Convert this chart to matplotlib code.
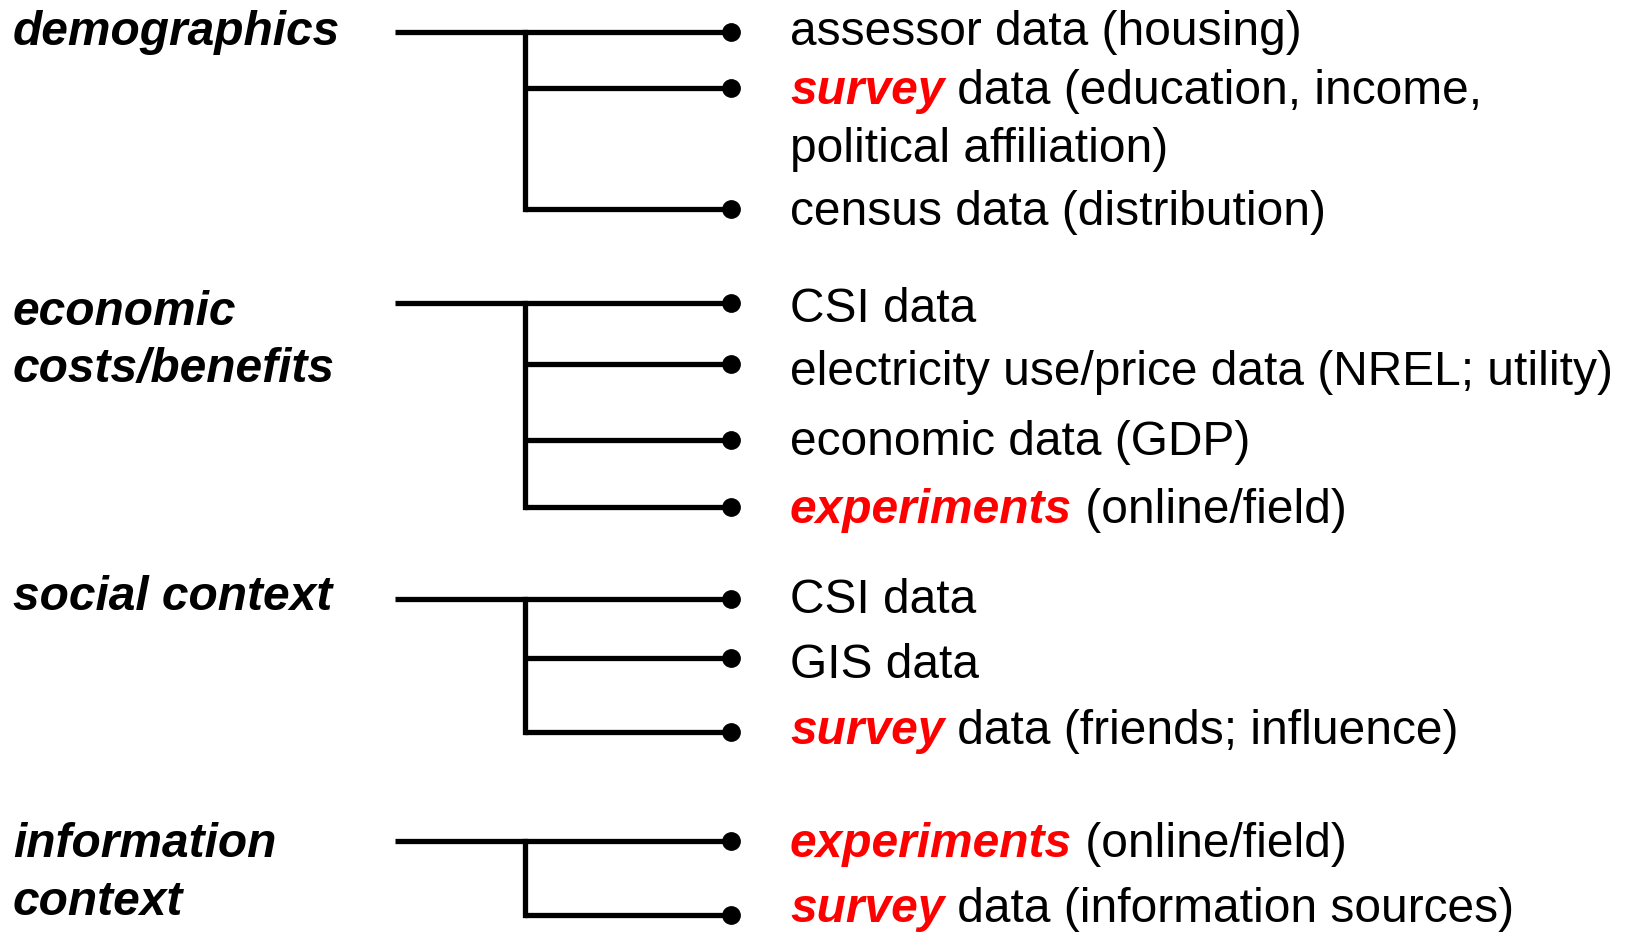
import matplotlib
matplotlib.use("Agg")
import matplotlib.pyplot as plt

# ---------------- data ----------------
group_labels = [
    ["demographics"],
    ["economic", "costs/benefits"],
    ["social context"],
    ["information", "context"],
]

# each item: (highlighted word in red, remaining text, continuation line)
demographics_items = [
    ("", "assessor data (housing)", ""),
    ("survey", " data (education, income,", "political affiliation)"),
    ("", "census data (distribution)", ""),
]
economic_items = [
    ("", "CSI data", ""),
    ("", "electricity use/price data (NREL; utility)", ""),
    ("", "economic data (GDP)", ""),
    ("experiments", " (online/field)", ""),
]
social_items = [
    ("", "CSI data", ""),
    ("", "GIS data", ""),
    ("survey", " data (friends; influence)", ""),
]
information_items = [
    ("experiments", " (online/field)", ""),
    ("survey", " data (information sources)", ""),
]
group_items = [demographics_items, economic_items, social_items, information_items]

# ---------------- layout (pixels) ----------------
W, H = 1626, 934
row_y = [[31.5, 88, 209], [303, 364, 440, 507], [599, 658, 732], [841, 915]]
text_base = [[45, 104, 225], [322, 385, 455, 523], [613, 678, 744], [857, 922]]
cont_gap = 58
label_base = [[45], [325, 382], [610], [857, 915]]

x_label = 13
x_start = 395
x_branch = 525
x_dot = 731
x_text = 790

FS = 34.5
LW = 3.8
MS = 12.5
RED = "#ff0000"
FONT = "Liberation Sans"

fig = plt.figure(figsize=(W / 100, H / 100), dpi=100)
ax = fig.add_axes([0, 0, 1, 1])
ax.set_xlim(0, W)
ax.set_ylim(H, 0)
ax.axis("off")

# lines and dots
for ys in row_y:
    ax.plot([x_start, x_dot], [ys[0], ys[0]], color="black", lw=LW,
            solid_capstyle="butt")
    ax.plot([x_branch, x_branch], [ys[0], ys[-1]], color="black", lw=LW,
            solid_capstyle="projecting")
    for y in ys[1:]:
        ax.plot([x_branch, x_dot], [y, y], color="black", lw=LW,
                solid_capstyle="butt")
    ax.plot([x_dot] * len(ys), ys, linestyle="none", marker="o",
            color="black", markersize=MS)

# group labels
for lines, bases in zip(group_labels, label_base):
    for t, b in zip(lines, bases):
        ax.text(x_label, b, t, fontsize=FS, fontweight="bold", style="italic",
                family=FONT, va="baseline", ha="left", color="black")

# item texts
fig.canvas.draw()
renderer = fig.canvas.get_renderer()
inv = ax.transData.inverted()
for items, bases in zip(group_items, text_base):
    for (red, rest, cont), b in zip(items, bases):
        x = x_text
        if red:
            rt = ax.text(x, b, red, fontsize=FS, fontweight="bold",
                         style="italic", family=FONT, va="baseline",
                         ha="left", color=RED)
            bb = rt.get_window_extent(renderer)
            x = inv.transform((bb.x1, bb.y0))[0]
        ax.text(x, b, rest, fontsize=FS, family=FONT, va="baseline",
                ha="left", color="black")
        if cont:
            ax.text(x_text, b + cont_gap, cont, fontsize=FS, family=FONT,
                    va="baseline", ha="left", color="black")

fig.savefig("out.png", dpi=100, facecolor="white")
